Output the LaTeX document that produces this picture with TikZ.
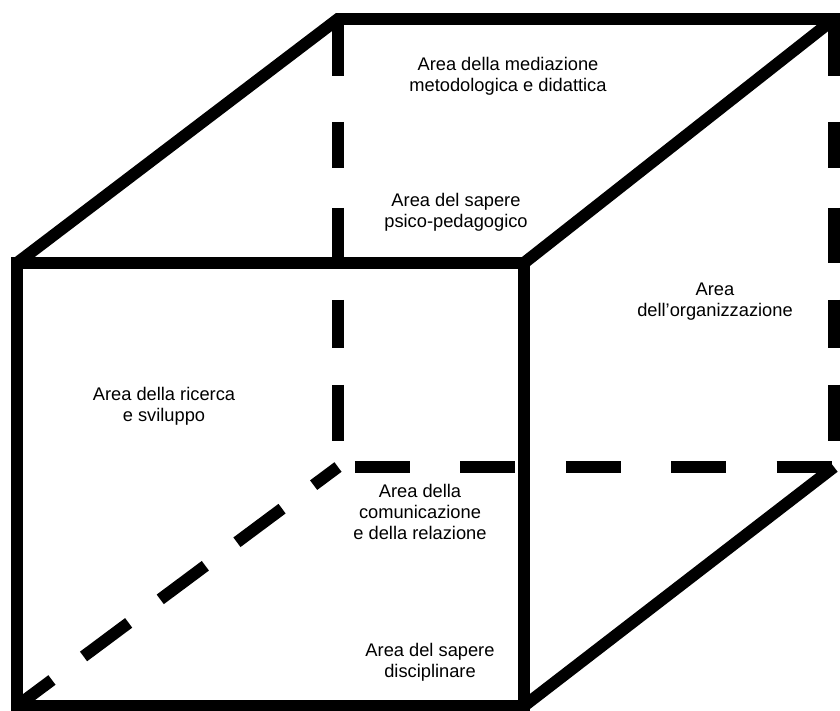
\documentclass[tikz,border=0pt]{standalone}
\usepackage{fontspec}
\setmainfont{Liberation Sans}
\usetikzlibrary{positioning}

\tikzset{
    edge/.style={line width=8.5pt, line join=miter},
    hiddenh/.style={line width=8.5pt, dash pattern=on 39pt off 36pt, dash phase=-12pt},
    hiddend/.style={line width=8.5pt, dash pattern=on 40pt off 28pt, dash phase=9pt},
    hiddenv/.style={line width=8.5pt,
        dash pattern=on 40.5pt off 32.7pt on 32.7pt off 28.5pt on 39.1pt off 26.3pt on 34.1pt off 26.3pt on 39.8pt off 21.3pt},
    area/.style={align=center, font=\fontsize{13}{15}\selectfont},
}

\begin{document}
\begin{tikzpicture}[x=0.025cm, y=-0.025cm]

\useasboundingbox (0,0) rectangle (840,710);

% Front face
\coordinate (F1) at (17,263);
\coordinate (F2) at (524,263);
\coordinate (F3) at (524,706);
\coordinate (F4) at (17,706);

% Back face
\coordinate (B1) at (338,19);
\coordinate (B2) at (834,19);
\coordinate (B3) at (834,467);
\coordinate (B4) at (338,467);

% Hidden edges
\draw[hiddenv] (B1) -- (B4);
\draw[hiddenv] (B2) -- (B3);
\draw[hiddenh] (B4) -- (B3);
\draw[hiddend] (F4) -- (B4);

% Draws the solid edges
\draw[
    edge,
    ]
    (F1) -- (F2) -- (F3) -- (F4) -- cycle;
\draw[
    edge,
    ]
    (F1) -- (B1) -- (B2) -- (F2);
\draw[
    edge,
    ]
    (F3) -- (B3);

% Labels
\node[area] (mediazione) at (508,76) {Area della mediazione\\metodologica e didattica};
\node[area] (psico) at (456,212) {Area del sapere\\psico-pedagogico};
\node[area] (organizzazione) at (715,302) {Area\\dell’organizzazione};
\node[area] (ricerca) at (164,406) {Area della ricerca\\e sviluppo};
\node[area] (comunicazione) at (420,512) {Area della\\comunicazione\\e della relazione};
\node[area] (disciplinare) at (430,662) {Area del sapere\\disciplinare};

\end{tikzpicture}
\end{document}
